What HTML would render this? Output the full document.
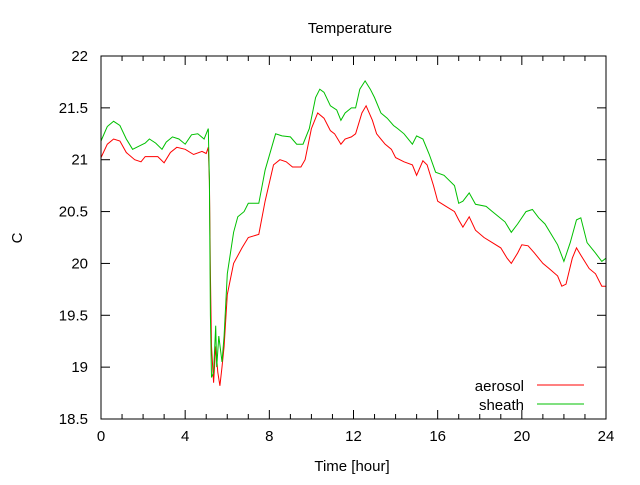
<!DOCTYPE html>
<html><head><meta charset="utf-8"><style>
body{margin:0;background:#fff}
svg text{font-family:"Liberation Sans",sans-serif;font-size:15px;fill:#000}
</style></head><body>
<svg id="chart" width="640" height="480" xmlns="http://www.w3.org/2000/svg">
<text x="350" y="33" text-anchor="middle">Temperature</text>
<text x="352" y="471" text-anchor="middle">Time [hour]</text>
<text x="17" y="243" text-anchor="middle" transform="rotate(-90 17 238)">C</text>
<g id="axes"></g>
<g id="series"></g>
<rect x="101" y="56" width="505" height="363" fill="none" stroke="#000" stroke-width="1"/>
<g>
<text x="524" y="391" text-anchor="end">aerosol</text>
<line x1="537" y1="385" x2="584" y2="385" stroke="#ff0000"/>
<text x="524" y="410" text-anchor="end">sheath</text>
<line x1="537" y1="404" x2="584" y2="404" stroke="#00c000"/>
</g>
</svg>
<script>
const xTicks=[0,4,8,12,16,20,24];
const yTicks=[18.5,19,19.5,20,20.5,21,21.5,22];
const aerosolT=[0,0.3,0.6,0.9,1.2,1.6,1.9,2.1,2.7,3.0,3.3,3.6,4.0,4.4,4.8,5.0,5.1,5.15,5.2,5.25,5.35,5.45,5.55,5.65,5.75,5.85,6.0,6.3,6.7,7.0,7.5,7.8,8.2,8.5,8.8,9.1,9.5,9.7,10.0,10.3,10.6,10.9,11.1,11.4,11.6,11.9,12.1,12.4,12.6,12.9,13.1,13.5,13.8,14.0,14.4,14.8,15.0,15.3,15.5,15.8,16.0,16.4,16.8,17.0,17.2,17.5,17.8,18.2,18.6,19.0,19.3,19.5,19.8,20.0,20.3,20.6,21.0,21.3,21.7,21.9,22.1,22.4,22.6,22.8,23.2,23.5,23.8,24];
const aerosolV=[21.02,21.15,21.2,21.18,21.07,21.0,20.98,21.03,21.03,20.97,21.07,21.12,21.1,21.05,21.08,21.06,21.12,20.8,19.9,19.2,18.85,19.2,18.95,18.82,19.0,19.2,19.7,20.0,20.15,20.25,20.28,20.6,20.95,21.0,20.98,20.93,20.93,21.0,21.3,21.45,21.4,21.28,21.25,21.15,21.2,21.22,21.25,21.45,21.52,21.38,21.25,21.15,21.1,21.02,20.98,20.95,20.85,20.99,20.95,20.75,20.6,20.55,20.5,20.42,20.35,20.45,20.32,20.25,20.2,20.15,20.05,20.0,20.1,20.18,20.17,20.1,20.0,19.95,19.88,19.78,19.8,20.05,20.15,20.08,19.95,19.9,19.78,19.78];
const sheathT=[0,0.3,0.6,0.9,1.2,1.5,1.8,2.1,2.3,2.6,2.9,3.1,3.4,3.7,4.0,4.3,4.6,4.9,5.1,5.15,5.2,5.25,5.35,5.45,5.5,5.6,5.75,5.85,6.0,6.3,6.5,6.8,7.0,7.5,7.8,8.3,8.6,9.0,9.3,9.6,9.9,10.2,10.4,10.6,10.9,11.2,11.4,11.6,11.9,12.1,12.3,12.55,12.8,13.0,13.3,13.6,13.9,14.1,14.4,14.8,15.0,15.3,15.6,15.9,16.3,16.8,17.0,17.2,17.5,17.8,18.3,18.6,18.9,19.2,19.5,19.8,20.2,20.5,20.8,21.1,21.4,21.7,22.0,22.3,22.6,22.8,23.1,23.5,23.8,24];
const sheathV=[21.18,21.32,21.37,21.33,21.2,21.1,21.13,21.16,21.2,21.16,21.1,21.17,21.22,21.2,21.15,21.24,21.25,21.2,21.3,20.8,19.5,18.9,18.95,19.4,19.0,19.3,19.05,19.3,19.9,20.3,20.45,20.5,20.58,20.58,20.9,21.25,21.23,21.22,21.15,21.15,21.3,21.6,21.68,21.65,21.52,21.48,21.38,21.45,21.5,21.5,21.68,21.76,21.68,21.6,21.45,21.4,21.33,21.3,21.25,21.15,21.23,21.2,21.05,20.88,20.85,20.75,20.58,20.6,20.68,20.57,20.55,20.5,20.45,20.4,20.3,20.38,20.5,20.52,20.44,20.38,20.28,20.18,20.02,20.2,20.42,20.44,20.2,20.1,20.02,20.05];
const X0=101,X1=606,Y0=419,Y1=56;
const sx=v=>X0+(v-0)/(24-0)*(X1-X0);
const sy=v=>Y0-(v-18.5)/(22-18.5)*(Y0-Y1);
const NS='http://www.w3.org/2000/svg';
const axes=document.getElementById('axes');
function mk(tag,attrs,parent){const e=document.createElementNS(NS,tag);for(const k in attrs)e.setAttribute(k,attrs[k]);parent.appendChild(e);return e;}
for(let h=0;h<=24;h++){
  const x=sx(h);const len=xTicks.includes(h)?9:5;
  const t1=mk('line',{x1:x,y1:Y0,x2:x,y2:Y0-len,stroke:'#000'},axes);
  
  
  const t2=mk('line',{x1:x,y1:Y1,x2:x,y2:Y1+len,stroke:'#000'},axes);
  
  
}
xTicks.forEach(v=>{
  const t=mk('text',{x:sx(v),y:Y0+22,'text-anchor':'middle'},axes);t.textContent=v;
  
  
});
yTicks.forEach(v=>{
  const y=sy(v);
  const a=mk('line',{x1:X0,y1:y,x2:X0+9,y2:y,stroke:'#000'},axes);
  
  
  const b=mk('line',{x1:X1,y1:y,x2:X1-9,y2:y,stroke:'#000'},axes);
  
  
  const t=mk('text',{x:X0-13,y:y+5,'text-anchor':'end'},axes);t.textContent=v;
  
  
});
const series=document.getElementById('series');
function line(T,V,color,name){
  const d=T.map((t,i)=>(i?'L':'M')+sx(t).toFixed(1)+' '+sy(V[i]).toFixed(1)).join(' ');
  const p=mk('path',{d:d,fill:'none',stroke:color,'stroke-width':1},series);
  
  
}
line(aerosolT,aerosolV,'#ff0000','aerosol-line');
line(sheathT,sheathV,'#00c000','sheath-line');
</script>
</body></html>
